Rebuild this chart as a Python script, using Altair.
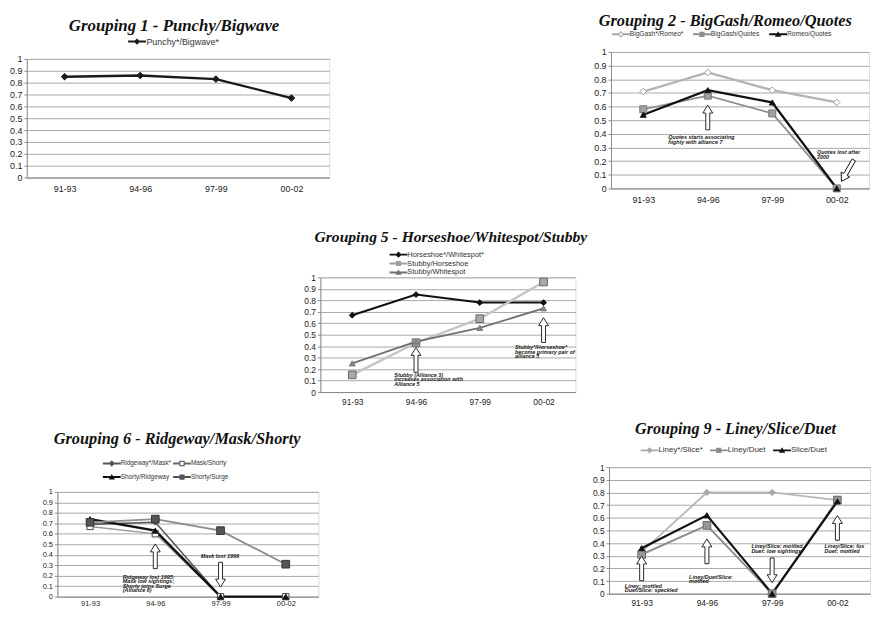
import altair as alt
import pandas as pd

# ---------------- data ----------------
CATS = ["91-93", "94-96", "97-99", "00-02"]
Y_TICKS = [0.0, 0.1, 0.2, 0.3, 0.4, 0.5, 0.6, 0.7, 0.8, 0.9, 1.0]

G1_TITLE = "Grouping 1 - Punchy/Bigwave"
G1_SERIES = ["Punchy*/Bigwave*"]
G1_VALUES = [[0.85, 0.86, 0.83, 0.67]]
G1_NOTES = []
G1_ARROWS = []

G2_TITLE = "Grouping 2 - BigGash/Romeo/Quotes"
G2_SERIES = ["BigGash*/Romeo*", "BigGash/Quotes", "Romeo/Quotes"]
G2_VALUES = [[0.71, 0.85, 0.72, 0.63],
             [0.58, 0.68, 0.55, 0.0],
             [0.54, 0.72, 0.63, 0.0]]
G2_NOTES = [("94-96", 0.39, -40, ["Quotes starts associating", "highly  with alliance 7"]),
            ("00-02", 0.28, -20, ["Quotes lost after", "2000"])]
G2_ARROWS = [("94-96", 0.52, 0, 0), ("00-02", 0.13, 11, 210)]

G5_TITLE = "Grouping 5 - Horseshoe/Whitespot/Stubby"
G5_SERIES = ["Horseshoe*/Whitespot*", "Stubby/Horseshoe", "Stubby/Whitespot"]
G5_VALUES = [[0.67, 0.85, 0.78, 0.78],
             [0.15, 0.43, 0.64, 0.96],
             [0.25, 0.44, 0.56, 0.73]]
G5_NOTES = [("94-96", 0.17, -22, ["Stubby (Alliance 3)", "increases association with", "Alliance 5"]),
            ("00-02", 0.41, -29, ["Stubby*/Horseshoe*", "become primary pair of", "alliance 5"])]
G5_ARROWS = [("94-96", 0.28, 0, 0), ("00-02", 0.54, 0, 0)]

G6_TITLE = "Grouping 6 - Ridgeway/Mask/Shorty"
G6_SERIES = ["Ridgeway*/Mask*", "Mask/Shorty", "Shorty/Ridgeway", "Shorty/Surge"]
G6_VALUES = [[0.69, 0.71, 0.0, 0.0],
             [0.67, 0.60, 0.0, 0.0],
             [0.74, 0.63, 0.0, 0.0],
             [0.71, 0.74, 0.63, 0.31]]
G6_NOTES = [("94-96", 0.21, -33, ["Ridgeway lost 1995;", "Mask low sightings;", "Shorty joins Surge", "(Alliance 8)"]),
            ("97-99", 0.41, -20, ["Mask lost 1999"])]
G6_ARROWS = [("94-96", 0.385, 0, 0), ("97-99", 0.21, 0, 180)]

G9_TITLE = "Grouping 9 - Liney/Slice/Duet"
G9_SERIES = ["Liney*/Slice*", "Liney/Duet", "Slice/Duet"]
G9_VALUES = [[0.33, 0.80, 0.80, 0.74],
             [0.31, 0.54, 0.0, 0.74],
             [0.36, 0.62, 0.0, 0.73]]
G9_NOTES = [("91-93", 0.08, -17, ["Liney: mottled", "Duet/Slice: speckled"]),
            ("94-96", 0.15, -18, ["Liney/Duet/Slice:", "mottled"]),
            ("97-99", 0.39, -21, ["Liney/Slice: mottled", "Duet: low sightings"]),
            ("00-02", 0.39, -13, ["Liney/Slice: fused", "Duet: mottled"])]
G9_ARROWS = [("91-93", 0.20, 0, 0), ("94-96", 0.335, 0, 0), ("97-99", 0.185, 0, 180), ("00-02", 0.52, 0, 0)]

# ---------------- styles ----------------
FONT = "Liberation Sans"
TFONT = "Liberation Serif"
MARK_SHAPES = {"diamond": "diamond", "square": "square", "triangle": "triangle-up"}
BAR = "M-2.25,-0.25H2.25V0.25H-2.25Z"
LEG_PATHS = {
    "diamond": BAR + "M0,-0.8L0.8,0L0,0.8L-0.8,0Z",
    "square": BAR + "M-0.65,-0.65H0.65V0.65H-0.65Z",
    "triangle": BAR + "M0,-0.8L0.8,0.6H-0.8Z",
    "hdiamond": "M-2.25,-0.25H-0.6V0.25H-2.25ZM0.6,-0.25H2.25V0.25H0.6Z"
                "M0,-0.85L0.85,0L0,0.85L-0.85,0ZM0,-0.45L-0.45,0L0,0.45L0.45,0Z",
    "hsquare": "M-2.25,-0.25H-0.7V0.25H-2.25ZM0.7,-0.25H2.25V0.25H0.7Z"
               "M-0.7,-0.7H0.7V0.7H-0.7ZM-0.4,-0.4V0.4H0.4V-0.4Z",
}
ARROW = "M0,-1L0.4,-0.36L0.16,-0.36L0.16,1L-0.16,1L-0.16,-0.36L-0.4,-0.36Z"


def st(line, width, shape, fill, mstroke, msize, lcolor, lshape):
    return dict(line=line, width=width, shape=shape, fill=fill, mstroke=mstroke,
                msize=msize, lcolor=lcolor, lshape=lshape)


G1_STY = [st("#1a1a1a", 2.4, "diamond", "#1a1a1a", "#1a1a1a", 45, "#1a1a1a", "diamond")]
G2_STY = [st("#b3b3b3", 2.4, "diamond", "#ffffff", "#9a9a9a", 45, "#a6a6a6", "hdiamond"),
          st("#8f8f8f", 1.8, "square", "#a0a0a0", "#777777", 50, "#8f8f8f", "square"),
          st("#111111", 2.4, "triangle", "#111111", "#111111", 35, "#111111", "triangle")]
G5_STY = [st("#111111", 2.0, "diamond", "#111111", "#111111", 35, "#111111", "diamond"),
          st("#c4c4c4", 2.4, "square", "#a8a8a8", "#666666", 60, "#a0a0a0", "square"),
          st("#707070", 1.8, "triangle", "#8c8c8c", "#707070", 35, "#707070", "triangle")]
G6_STY = [st("#555555", 1.6, "diamond", "#555555", "#555555", 30, "#555555", "diamond"),
          st("#9a9a9a", 1.4, "square", "#ffffff", "#444444", 40, "#666666", "hsquare"),
          st("#111111", 2.4, "triangle", "#111111", "#111111", 35, "#111111", "triangle"),
          st("#8c8c8c", 1.8, "square", "#555555", "#333333", 60, "#555555", "square")]
G9_STY = [st("#b8b8b8", 1.8, "diamond", "#aaaaaa", "#aaaaaa", 40, "#aaaaaa", "diamond"),
          st("#8c8c8c", 2.0, "square", "#999999", "#666666", 60, "#8c8c8c", "square"),
          st("#111111", 2.2, "triangle", "#111111", "#111111", 35, "#111111", "triangle")]

IND = dict(color="independent", shape="independent")


def make_panel(title, series, values, styles, notes, arrows, w, h, leg, tit, xpad, fs, clip_last=None):
    rows = []
    for s, vals in zip(series, values):
        for i, (c, v) in enumerate(zip(CATS, vals)):
            rows.append({"period": c, "value": v, "series": s, "idx": i})
    df = pd.DataFrame(rows)
    x = alt.X("period:N", sort=CATS,
              scale=alt.Scale(type="point", domain=CATS, padding=0.5),
              axis=alt.Axis(title=None, labelAngle=0, ticks=False, grid=False, labelPadding=xpad,
                            domainColor="#8c8c8c", labelFontSize=fs, labelColor="#222222",
                            labelFont=FONT))
    y = alt.Y("value:Q", scale=alt.Scale(domain=[0, 1], nice=False),
              axis=alt.Axis(title=None, values=Y_TICKS, format="~g", grid=True,
                            gridColor="#a8a8a8", tickSize=3, tickColor="#8c8c8c",
                            domainColor="#8c8c8c", labelPadding=2, labelFontSize=fs,
                            labelColor="#222222", labelFont=FONT))
    base = alt.Chart(df)
    layers = []
    for s, sty in zip(series, styles):
        layers.append(base.transform_filter(alt.datum.series == s).mark_line(
            stroke=sty["line"], strokeWidth=sty["width"]).encode(x=x, y=y, order=alt.Order("idx:Q")))
    for s, sty in zip(series, styles):
        layers.append(base.transform_filter(alt.datum.series == s).mark_point(
            shape=MARK_SHAPES[sty["shape"]], filled=True, fill=sty["fill"], stroke=sty["mstroke"],
            strokeWidth=1, size=sty["msize"], opacity=1).encode(x=x, y=y))
    lcfg = dict(orient="none", legendX=leg["x"], legendY=leg["y"], direction=leg.get("dir", "horizontal"),
                title=None, symbolSize=64, symbolStrokeWidth=0, labelFontSize=leg["fs"], labelFont=FONT,
                labelColor="#333333", labelOffset=5, columnPadding=leg["cp"], rowPadding=leg.get("rp", 0),
                padding=0, symbolOpacity=1)
    if "cols" in leg:
        lcfg["columns"] = leg["cols"]
    # legend-only layer: zero-size marks, legend built from the series names
    layers.append(base.mark_point(filled=True, opacity=1, size=0).encode(
        x=x, y=y,
        color=alt.Color("series:N", scale=alt.Scale(domain=series, range=[s_["lcolor"] for s_ in styles]),
                        legend=alt.Legend(**lcfg)),
        shape=alt.Shape("series:N", scale=alt.Scale(domain=series, range=[LEG_PATHS[s_["lshape"]] for s_ in styles]),
                        legend=alt.Legend(**lcfg)),
    ))
    for k, (c, v, dx, lines) in enumerate(notes):
        extra = {}
        if clip_last is not None and k == len(notes) - 1:
            extra = dict(limit=clip_last, ellipsis=" ")
        layers.append(alt.Chart(pd.DataFrame({"period": [c], "value": [v]})).mark_text(
            text=lines, dx=dx, align="left", baseline="top", fontSize=5.5, fontStyle="italic",
            fontWeight="bold", font=FONT, lineHeight=4.6, color="#1a1a1a", **extra).encode(x=x, y=y))
    for (c, v, dx, ang) in arrows:
        layers.append(alt.Chart(pd.DataFrame({"period": [c], "value": [v]})).mark_point(
            shape=ARROW, filled=True, fill="white", stroke="#111111", strokeWidth=0.9, opacity=1,
            size=625, angle=ang, xOffset=dx).encode(x=x, y=y))
    return alt.layer(*layers).properties(
        width=w, height=h,
        title=alt.TitleParams(title, font=TFONT, fontSize=tit["fs"], fontStyle="italic", fontWeight="bold",
                              color="#111111", offset=tit["offset"], dx=tit.get("dx", 0),
                              frame="group", anchor="middle"))


def spacer(w, h):
    return alt.Chart(pd.DataFrame({"s": [0]})).mark_point(opacity=0, size=0).properties(width=w, height=h)


def vc(*items):
    return alt.vconcat(*items, spacing=0).resolve_scale(**IND).resolve_legend(**IND)


def hc(*items, spacing=0):
    return alt.hconcat(*items, spacing=spacing).resolve_scale(**IND).resolve_legend(**IND)


p1 = make_panel(G1_TITLE, G1_SERIES, G1_VALUES, G1_STY, G1_NOTES, G1_ARROWS, 306, 120,
                dict(x=107, y=-22, cp=18, fs=9), dict(offset=2, dx=-4, fs=17), 7.5, 9)
p2 = make_panel(G2_TITLE, G2_SERIES, G2_VALUES, G2_STY, G2_NOTES, G2_ARROWS, 261, 138,
                dict(x=6, y=-22, cp=9, fs=6.7), dict(offset=1, dx=-15, fs=16.5), 7, 9)
p5 = make_panel(G5_TITLE, G5_SERIES, G5_VALUES, G5_STY, G5_NOTES, G5_ARROWS, 258, 116,
                dict(x=75, y=-27, cp=10, dir="vertical", rp=1, fs=7.5), dict(offset=5, dx=3, fs=15.8), 5.5, 8.5)
p6 = make_panel(G6_TITLE, G6_SERIES, G6_VALUES, G6_STY, G6_NOTES, G6_ARROWS, 264, 106,
                dict(x=51, y=-33, cp=2, cols=2, rp=6, fs=6.5), dict(offset=12, dx=-11, fs=16.5), 3, 7.5)
p9 = make_panel(G9_TITLE, G9_SERIES, G9_VALUES, G9_STY, G9_NOTES, G9_ARROWS, 264, 128,
                dict(x=37, y=-21, cp=7, fs=8), dict(offset=9, dx=-4, fs=16.3), 5, 8.5, clip_last=44)

row1 = hc(vc(spacer(1, 5), p1), spacer(265, 1), vc(spacer(1, 1), p2))
row2 = hc(spacer(279, 1), vc(spacer(1, 19), p5))
row3 = hc(spacer(15, 1), vc(spacer(1, 20), p6), spacer(275, 1), vc(spacer(1, 10), p9))

chart = alt.vconcat(row1, row2, row3, spacing=4).resolve_scale(**IND).resolve_legend(**IND).properties(
    padding={"left": 0, "top": 0, "right": 0, "bottom": 0}
).configure_view(stroke=None).configure(background="white")

chart.save("out.html", embed_options={"renderer": "svg", "actions": False})
